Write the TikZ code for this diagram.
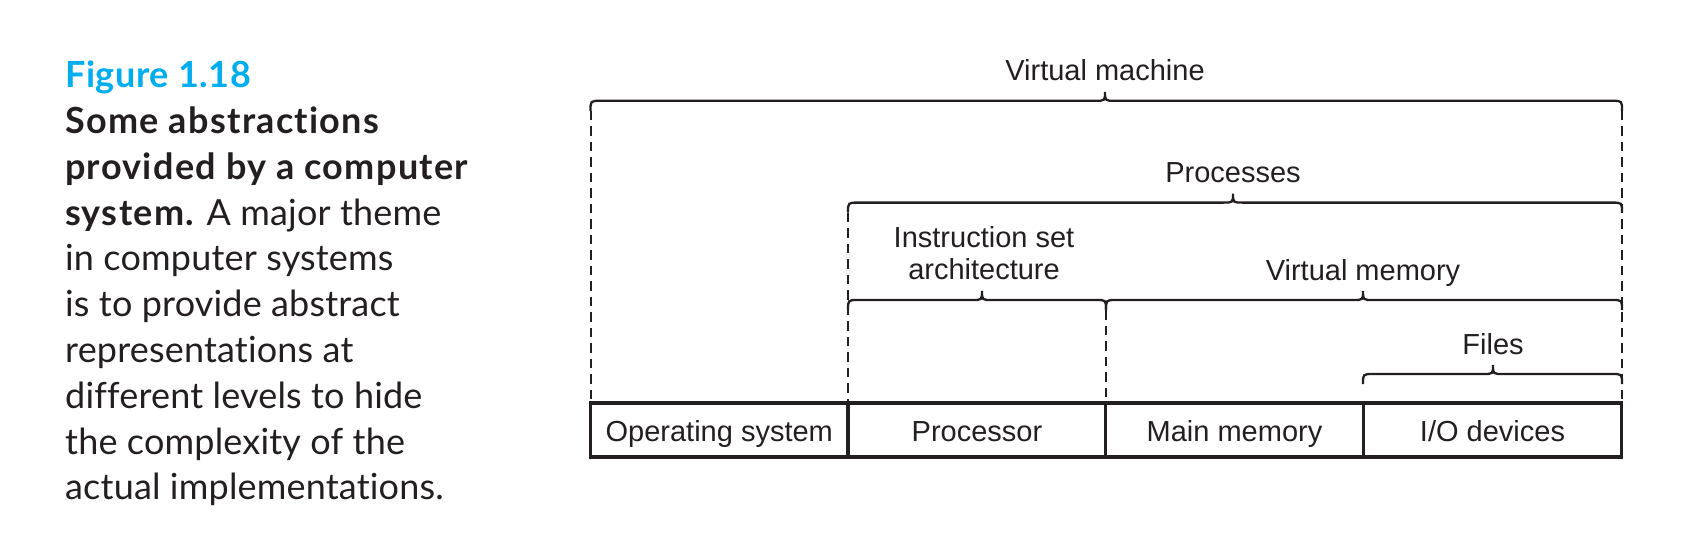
\documentclass[tikz,border=0pt]{standalone}
\usepackage{fontspec}
\setmainfont{Liberation Sans}
\newfontfamily\capfont[Ligatures=NoCommon, LetterSpace=0.5]{Lato}
\newfontfamily\capbfont[Ligatures=NoCommon, LetterSpace=3.6]{Lato Bold}
\newfontfamily\figfont[Ligatures=NoCommon, LetterSpace=1.5]{Lato Bold}
\definecolor{figcyan}{HTML}{00AEEF}
\definecolor{ink}{HTML}{231F20}
\newcommand\mybrace[4]{% x1 x2 xtip y
  \draw[bracestyle] ({#1},{#4+10}) .. controls ({#1},{#4}) .. ({#1+10},{#4})
    -- ({#3-10},{#4}) .. controls ({#3},{#4}) .. ({#3},{#4-9})
    .. controls ({#3},{#4}) .. ({#3+10},{#4})
    -- ({#2-10},{#4}) .. controls ({#2},{#4}) .. ({#2},{#4+10});}
\begin{document}
\begin{tikzpicture}[x=1pt,y=-1pt,
  cell/.style={draw=ink, line width=3.3pt, minimum width=257.5pt, minimum height=54pt,
    inner sep=0pt, text height=28pt, text depth=6pt, font=\fontsize{29}{34}\selectfont, text=ink},
  lbl/.style={inner sep=0pt, anchor=base, font=\fontsize{29}{34}\selectfont, text=ink},
  bracestyle/.style={draw=ink, line width=2.3pt},
  dashline/.style={draw=ink, line width=2pt, dash pattern=on 9.5pt off 6pt},
  captxt/.style={inner sep=0pt, anchor=base west, text=ink, font=\capfont\fontsize{36}{40}\selectfont},
  capbold/.style={captxt, font=\capbfont\fontsize{36}{40}\selectfont}]
\useasboundingbox (0,0) rectangle (1699,554);

% caption
\node[captxt, text=figcyan, font=\figfont\fontsize{36}{40}\selectfont] (fig) at (65,87.5) {Figure 1.18};
\node[capbold] (l1) at (65,133.5) {Some abstractions};
\node[capbold] (l2) at (65,179.3) {provided by a computer};
\node[captxt] (l3) at (65,225.1) {{\capbfont system.} A major theme};
\node[captxt] (l4) at (65,270.9) {in computer systems};
\node[captxt] (l5) at (65,316.7) {is to provide abstract};
\node[captxt] (l6) at (65,362.5) {representations at};
\node[captxt] (l7) at (65,408.3) {different levels to hide};
\node[captxt] (l8) at (65,454.1) {the complexity of the};
\node[captxt] (l9) at (65,499.9) {actual implementations.};

% dashed guides
\draw[dashline] (590.5,110.8) -- (590.5,402);
\draw[dashline] (1622,110.8) -- (1622,402);
\draw[dashline] (848,212.6) -- (848,402);
\draw[dashline] (1106,310) -- (1106,402);

% cells
\node[cell] (os) at (719.25,430) {Operating system};
\node[cell] (proc) at (977,430) {Processor};
\node[cell] (mem) at (1234.5,430) {Main memory};
\node[cell] (io) at (1492.5,430) {I/O devices};

% braces
\mybrace{590.5}{1622}{1105}{100.8}
\mybrace{848}{1622}{1233}{202.6}
\mybrace{848}{1106}{982}{300}
\mybrace{1106}{1622}{1363}{300}
\mybrace{1363}{1622}{1493}{374}

% labels
\node[lbl] (vmach) at (1105,80) {Virtual machine};
\node[lbl] (procs) at (1233,182) {Processes};
\node[lbl] (isa1) at (984,247) {Instruction set};
\node[lbl] (isa2) at (984,279.5) {architecture};
\node[lbl] (vmem) at (1363,280) {Virtual memory};
\node[lbl] (files) at (1493,354) {Files};
\end{tikzpicture}
\end{document}
